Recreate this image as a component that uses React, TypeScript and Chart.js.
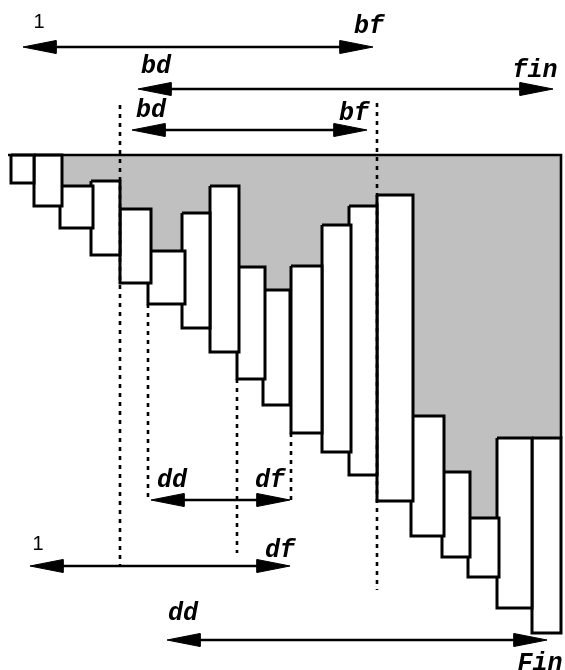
import React, { useEffect, useRef } from "react";
import { Chart, registerables } from "chart.js";

Chart.register(...registerables);

// Block (rectangle) geometry
const rectLeft = [11, 34, 60, 91, 120, 148, 182, 210, 237, 263, 291, 322, 349, 377, 411, 442, 468, 497, 532];
const rectRight = [34, 62, 93, 120, 151, 185, 210, 239, 265, 290, 322, 351, 377, 413, 444, 470, 499, 532, 561];
const rectTop = [155, 155, 186, 181, 209, 251, 213, 186, 267, 290, 266, 225, 206, 195, 416, 472, 518, 438, 438];
const rectBottom = [183, 206, 228, 255, 283, 304, 328, 352, 379, 405, 433, 452, 475, 501, 536, 557, 577, 608, 633];

// Frame of the shaded region
const frameX = [8, 561, 561];
const frameY = [155, 155, 438];

// Dotted vertical guides
const dashX = [120, 377, 148, 237, 291];
const dashTop = [105, 103, 304, 379, 433];
const dashBottom = [566, 590, 497, 553, 500];

// Double-headed arrows
const arrowY = [47, 89, 130, 500, 566, 640];
const arrowStart = [23, 138, 132, 151, 30, 167];
const arrowEnd = [373, 553, 367, 290, 290, 547];

// Labels
const labelText = ["1", "bf", "bd", "fin", "bd", "bf", "dd", "df", "1", "df", "dd", "Fin"];
const labelX = [39, 369, 156, 535, 151, 354, 172, 270, 38, 280, 183, 540];
const labelY = [28, 33, 73, 77, 117, 120, 487, 487, 550, 557, 620, 670];

const W = 565;
const H = 670;

export default function App() {
  const ref = useRef<HTMLCanvasElement | null>(null);

  useEffect(() => {
    if (!ref.current) return;
    const datasets: any[] = [];

    // shaded region polygon
    const grey: { x: number; y: number }[] = [];
    grey.push({ x: rectLeft[2], y: frameY[0] });
    grey.push({ x: frameX[1], y: frameY[1] });
    grey.push({ x: frameX[2], y: frameY[2] });
    for (let i = rectLeft.length - 1; i >= 2; i--) {
      grey.push({ x: rectRight[i], y: rectTop[i] });
      grey.push({ x: rectLeft[i], y: rectTop[i] });
    }
    datasets.push({
      data: grey,
      showLine: true,
      fill: "shape",
      backgroundColor: "#c0c0c0",
      borderWidth: 0,
      borderColor: "rgba(0,0,0,0)",
      pointRadius: 0,
      order: 10,
    });

    // rectangles
    for (let i = 0; i < rectLeft.length; i++) {
      datasets.push({
        data: [
          { x: rectLeft[i], y: rectTop[i] },
          { x: rectRight[i], y: rectTop[i] },
          { x: rectRight[i], y: rectBottom[i] },
          { x: rectLeft[i], y: rectBottom[i] },
          { x: rectLeft[i], y: rectTop[i] },
        ],
        showLine: true,
        fill: "shape",
        backgroundColor: "#ffffff",
        borderColor: "#000000",
        borderWidth: 3,
        borderJoinStyle: "miter",
        pointRadius: 0,
        order: 5,
      });
    }

    // frame
    datasets.push({
      data: frameX.map((x, i) => ({ x, y: frameY[i] })),
      showLine: true,
      fill: false,
      borderColor: "#000000",
      borderWidth: 2.6,
      borderJoinStyle: "miter",
      pointRadius: 0,
      order: 4,
    });

    // dotted guides
    for (let i = 0; i < dashX.length; i++) {
      datasets.push({
        data: [
          { x: dashX[i], y: dashTop[i] },
          { x: dashX[i], y: dashBottom[i] },
        ],
        showLine: true,
        fill: false,
        borderColor: "#000000",
        borderWidth: 2.6,
        borderDash: [4, 5],
        pointRadius: 0,
        order: 3,
      });
    }

    // arrows
    const headLen = 33;
    const headHalf = 6.5;
    for (let i = 0; i < arrowY.length; i++) {
      const y = arrowY[i];
      const a = arrowStart[i];
      const b = arrowEnd[i];
      datasets.push({
        data: [
          { x: a + 10, y },
          { x: b - 10, y },
        ],
        showLine: true,
        fill: false,
        borderColor: "#000000",
        borderWidth: 2.4,
        pointRadius: 0,
        order: 2,
      });
      datasets.push({
        data: [
          { x: a, y },
          { x: a + headLen, y: y - headHalf },
          { x: a + headLen, y: y + headHalf },
          { x: a, y },
        ],
        showLine: true,
        fill: "shape",
        backgroundColor: "#000000",
        borderColor: "#000000",
        borderWidth: 1,
        pointRadius: 0,
        order: 1,
      });
      datasets.push({
        data: [
          { x: b, y },
          { x: b - headLen, y: y - headHalf },
          { x: b - headLen, y: y + headHalf },
          { x: b, y },
        ],
        showLine: true,
        fill: "shape",
        backgroundColor: "#000000",
        borderColor: "#000000",
        borderWidth: 1,
        pointRadius: 0,
        order: 1,
      });
    }

    const labelPlugin = {
      id: "labels",
      afterDatasetsDraw(chart: any) {
        const ctx = chart.ctx;
        const xs = chart.scales.x;
        const ys = chart.scales.y;
        ctx.save();
        ctx.fillStyle = "#000000";
        ctx.textAlign = "center";
        ctx.textBaseline = "alphabetic";
        for (let i = 0; i < labelText.length; i++) {
          const t = labelText[i];
          if (t === "1") ctx.font = "20px \"Liberation Sans\"";
          else ctx.font = "italic bold 25px \"Liberation Mono\", monospace";
          ctx.fillText(t, xs.getPixelForValue(labelX[i]), ys.getPixelForValue(labelY[i]));
        }
        ctx.restore();
      },
    };

    const chart = new Chart(ref.current, {
      type: "scatter",
      data: { datasets },
      options: {
        animation: false,
        responsive: false,
        maintainAspectRatio: false,
        layout: { padding: 0 },
        events: [],
        plugins: {
          legend: { display: false },
          tooltip: { enabled: false },
        },
        scales: {
          x: { type: "linear", min: 0, max: W, display: false },
          y: { type: "linear", min: 0, max: H, reverse: true, display: false },
        },
      },
      plugins: [labelPlugin],
    });
    return () => chart.destroy();
  }, []);

  return (
    <div style={{ position: "fixed", left: 0, top: 0, width: W, height: H, background: "#ffffff" }}>
      <canvas ref={ref} width={W} height={H} style={{ width: W, height: H, display: "block" }} />
    </div>
  );
}
